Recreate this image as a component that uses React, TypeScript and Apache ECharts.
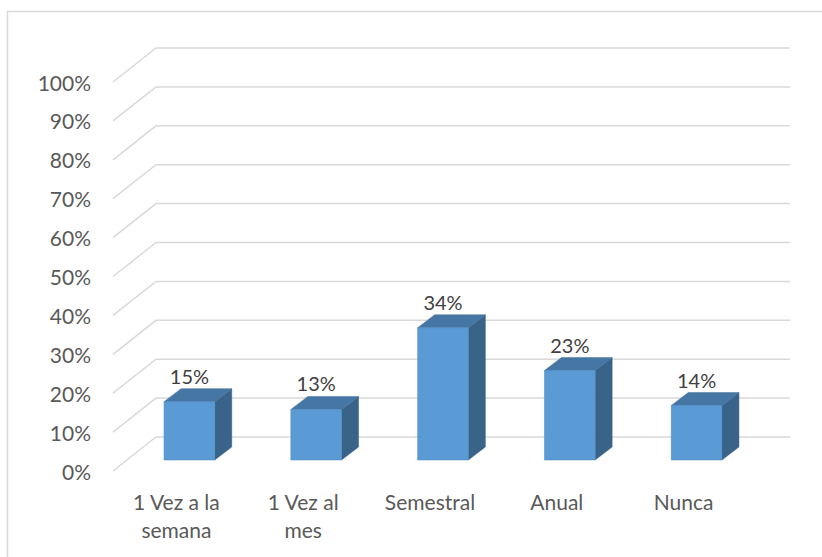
import React, { useEffect, useRef } from "react";
import * as echarts from "echarts";

const categories = ["1 Vez a la\nsemana", "1 Vez al\nmes", "Semestral", "Anual", "Nunca"];
const values = [15, 13, 34, 23, 14];
const yTicks = [0, 10, 20, 30, 40, 50, 60, 70, 80, 90, 100];

const FONT = "Lato";
const DEPTH_X = 43;
const DEPTH_Y = 34;

export default function App() {
  const ref = useRef<HTMLDivElement>(null);
  useEffect(() => {
    if (!ref.current) return;
    const chart = echarts.init(ref.current, undefined, { renderer: "svg" });
    const option: any = {
      animation: false,
      backgroundColor: "#ffffff",
      textStyle: { fontFamily: FONT },
      grid: { left: 113, right: 75, top: 82, bottom: 86 },
      graphic: [
        {
          type: "rect",
          shape: { x: 7.5, y: 11.5, width: 900, height: 700 },
          style: { fill: "none", stroke: "#D9D9D9", lineWidth: 1.5 },
          silent: true,
          z: 0,
        },
      ],
      xAxis: {
        type: "category",
        data: categories,
        axisLine: { show: false },
        axisTick: { show: false },
        splitLine: { show: false },
        axisLabel: {
          interval: 0,
          margin: 16,
          color: "#595959",
          fontFamily: FONT,
          fontSize: 21,
          lineHeight: 28,
        },
      },
      yAxis: {
        type: "value",
        min: 0,
        max: 100,
        interval: 10,
        axisLine: { show: false },
        axisTick: { show: false },
        splitLine: { show: false },
        axisLabel: {
          formatter: "{value}%",
          margin: 22,
          color: "#595959",
          fontFamily: FONT,
          fontSize: 21,
        },
      },
      series: [
        {
          type: "custom",
          name: "grid3d",
          silent: true,
          z: 1,
          data: yTicks.map((t) => [0, t]),
          renderItem: (params: any, api: any) => {
            const cs = params.coordSys;
            const y = api.coord([0, api.value(1)])[1];
            const left = cs.x;
            const right = cs.x + cs.width;
            return {
              type: "polyline",
              shape: {
                points: [
                  [left, y],
                  [left + DEPTH_X, y - DEPTH_Y],
                  [right + DEPTH_X, y - DEPTH_Y],
                ],
              },
              style: { fill: "none", stroke: "#D9D9D9", lineWidth: 1.5 },
            };
          },
        },
        {
          type: "custom",
          name: "bars",
          z: 2,
          data: values.map((v, i) => [i, v]),
          renderItem: (params: any, api: any) => {
            const i = api.value(0);
            const v = api.value(1);
            const base = api.coord([i, 0]);
            const top = api.coord([i, v]);
            const band = api.size([1, 0])[0];
            const w = band * 0.4;
            const ox = 13;
            const oy = -11;
            const dx = 17;
            const dy = 13;
            const x0 = base[0] - w / 2 + ox;
            const x1 = x0 + w;
            const yb = base[1] + oy;
            const yt = top[1] + oy;
            return {
              type: "group",
              children: [
                {
                  type: "polygon",
                  shape: {
                    points: [
                      [x1, yt],
                      [x1 + dx, yt - dy],
                      [x1 + dx, yb - dy],
                      [x1, yb],
                    ],
                  },
                  style: { fill: "#3A6389", stroke: "#3A6389", lineWidth: 0.5 },
                },
                {
                  type: "polygon",
                  shape: {
                    points: [
                      [x0, yt],
                      [x1, yt],
                      [x1 + dx, yt - dy],
                      [x0 + dx, yt - dy],
                    ],
                  },
                  style: { fill: "#4676A3", stroke: "#4676A3", lineWidth: 0.5 },
                },
                {
                  type: "rect",
                  shape: { x: x0, y: yt, width: w, height: yb - yt },
                  style: { fill: "#5B9BD5", stroke: "#4A86BE", lineWidth: 0.5 },
                },
                {
                  type: "text",
                  x: x0 + w / 2,
                  y: yt - dy - 13,
                  style: {
                    text: v + "%",
                    fill: "#404040",
                    fontFamily: FONT,
                    fontSize: 20,
                    align: "center",
                    verticalAlign: "middle",
                  },
                },
              ],
            };
          },
        },
      ],
    };
    chart.setOption(option);
    return () => chart.dispose();
  }, []);
  return (
    <div
      ref={ref}
      style={{ position: "absolute", left: 0, top: 0, width: 822, height: 557 }}
    />
  );
}
